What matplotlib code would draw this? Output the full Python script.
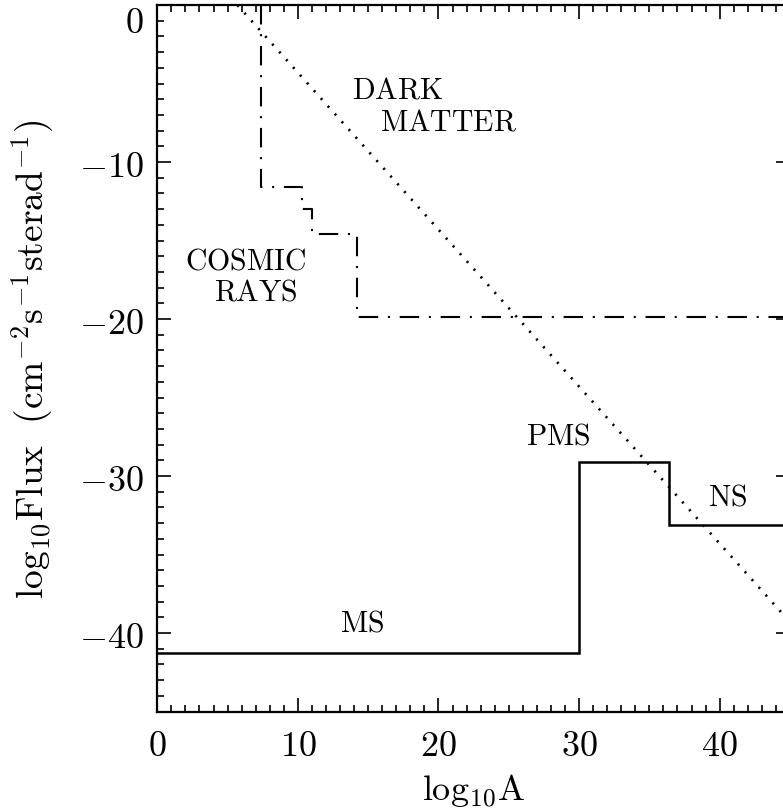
import matplotlib
matplotlib.use("Agg")
import matplotlib.pyplot as plt
from matplotlib.ticker import MultipleLocator, FuncFormatter

plt.rcParams['mathtext.fontset'] = 'cm'
plt.rcParams['font.family'] = 'serif'
plt.rcParams['lines.scale_dashes'] = False

# --------------- data --------------- #
# cosmic rays (dash-dot step line)
cr_x = [7.4, 7.4, 10.3, 10.3, 11.0, 11.0, 14.2, 14.2, 46.0]
cr_y = [0.0, -11.6, -11.6, -13.0, -13.0, -14.6, -14.6, -19.9, -19.9]

# dark matter (dotted line)
dm_x = [5.7, 46.0]
dm_y = [0.0, -40.3]

# stars: MS, PMS, NS (solid step line)
st_x = [0.0, 30.0, 30.0, 36.4, 36.4, 46.0]
st_y = [-41.3, -41.3, -29.1, -29.1, -33.1, -33.1]

labels = [r'$\mathrm{DARK}$', r'$\mathrm{MATTER}$', r'$\mathrm{COSMIC}$',
          r'$\mathrm{RAYS}$', r'$\mathrm{PMS}$', r'$\mathrm{NS}$', r'$\mathrm{MS}$']
label_x = [17.1, 20.7, 6.3, 7.0, 28.5, 40.6, 14.6]
label_y = [-5.35, -7.4, -16.3, -18.25, -27.4, -31.3, -39.3]

# --------------- plot --------------- #
fig = plt.figure(figsize=(7.83, 8.12), dpi=100)
ax = fig.add_axes([0.2009, 0.1225, 0.808, 0.870])

ax.plot(cr_x, cr_y, color='black', lw=1.5, dashes=(14, 7, 1.5, 7))
ax.plot(dm_x, dm_y, color='black', lw=1.9, dashes=(1.5, 6))
ax.plot(st_x, st_y, color='black', lw=1.8, solid_joinstyle='miter')

for s, x, y in zip(labels, label_x, label_y):
    ax.text(x, y, s, fontsize=21.5, ha='center', va='center')

ax.set_xlim(0, 45)
ax.set_ylim(-45, 0)
ax.xaxis.set_major_locator(MultipleLocator(10))
ax.xaxis.set_minor_locator(MultipleLocator(1))
ax.yaxis.set_major_locator(MultipleLocator(10))
ax.yaxis.set_minor_locator(MultipleLocator(1))
fmt = FuncFormatter(lambda v, p: r'$%d$' % round(v))
ax.xaxis.set_major_formatter(fmt)
ax.yaxis.set_major_formatter(fmt)

ax.tick_params(which='both', direction='in', top=True, right=True,
               labelsize=26, width=1.2, color='black')
ax.tick_params(which='major', length=10, pad=12)
ax.tick_params(which='minor', length=5)
ax.tick_params(axis='y', which='major', pad=10)
for sp in ax.spines.values():
    sp.set_linewidth(1.6)

ax.set_xlabel(r'$\mathrm{log_{10}A}$', fontsize=26, labelpad=6)
ax.set_ylabel(r'$\mathrm{log_{10}Flux\ \ (cm^{-2}s^{-1}sterad^{-1})}$',
              fontsize=27, labelpad=16)

fig.canvas.draw()
for t in ax.get_yticklabels():
    if t.get_text() == r'$0$':
        t.set_va('top')

plt.savefig('out.png', dpi=100)
